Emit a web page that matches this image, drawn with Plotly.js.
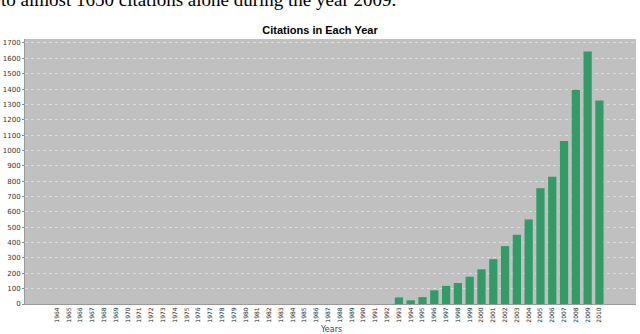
<!DOCTYPE html>
<html>
<head>
<meta charset="utf-8">
<script src="https://cdn.plot.ly/plotly-3.0.1.min.js"></script>
<style>
  html, body { margin: 0; padding: 0; background: #fff; }
  #plot { width: 640px; height: 334px; }
</style>
</head>
<body>
<div id="plot"></div>
<script>
var years = [];
for (var y = 1964; y <= 2010; y++) years.push(String(y));

// citations per year, 1964..1992 are zero
var zeroYears = new Array(28).fill(0);
var laterCounts = [0, 43, 24, 45, 89, 118, 137, 178, 226, 292, 377, 451, 551, 754, 828, 1061, 1395, 1644, 1325];
var citations = zeroYears.concat(laterCounts);

var trace1 = {
  x: years,
  y: citations,
  type: 'bar',
  marker: {color: 'rgb(51,155,104)'},
  hoverinfo: 'x+y'
};

var layout = {
  width: 640,
  height: 334,
  margin: {l: 25, r: 4, t: 39, b: 30},
  paper_bgcolor: '#ffffff',
  plot_bgcolor: '#c0c0c0',
  bargap: 0.3,
  showlegend: false,
  title: {
    text: '<b>Citations in Each Year</b>',
    font: {family: 'Liberation Sans, Arial, sans-serif', size: 11, color: '#000'},
    x: 0.5, xanchor: 'center',
    y: 0.91, yref: 'container', yanchor: 'middle'
  },
  xaxis: {
    type: 'category',
    range: [-2.7, 49.1],
    tickangle: -90,
    tickfont: {family: 'DejaVu Sans, sans-serif', size: 6, color: '#222'},
    ticks: '',
    showgrid: false,
    showline: true,
    linecolor: '#9a9a9a'
  },
  yaxis: {
    range: [0, 1726],
    dtick: 100,
    tickfont: {family: 'DejaVu Sans, sans-serif', size: 7, color: '#333'},
    ticks: 'outside',
    ticklen: 2,
    tickcolor: '#888',
    gridcolor: '#dedede',
    griddash: 'dot',
    gridwidth: 1,
    zeroline: false,
    showline: true,
    linecolor: '#9a9a9a'
  },
  annotations: [{
    text: 'to almost 1650 citations alone during the year 2009.',
    xref: 'paper', yref: 'paper',
    x: -0.042, xanchor: 'left',
    y: 1.148, yanchor: 'middle',
    showarrow: false,
    font: {family: 'Liberation Serif, Times New Roman, serif', size: 19, color: '#000'}
  }, {
    text: 'Years',
    xref: 'paper', yref: 'paper',
    x: 0.5, xanchor: 'center',
    y: -0.095, yanchor: 'middle',
    showarrow: false,
    font: {family: 'DejaVu Sans, sans-serif', size: 8, color: '#444'}
  }]
};

Plotly.newPlot('plot', [trace1], layout, {displayModeBar: false});
</script>
</body>
</html>
